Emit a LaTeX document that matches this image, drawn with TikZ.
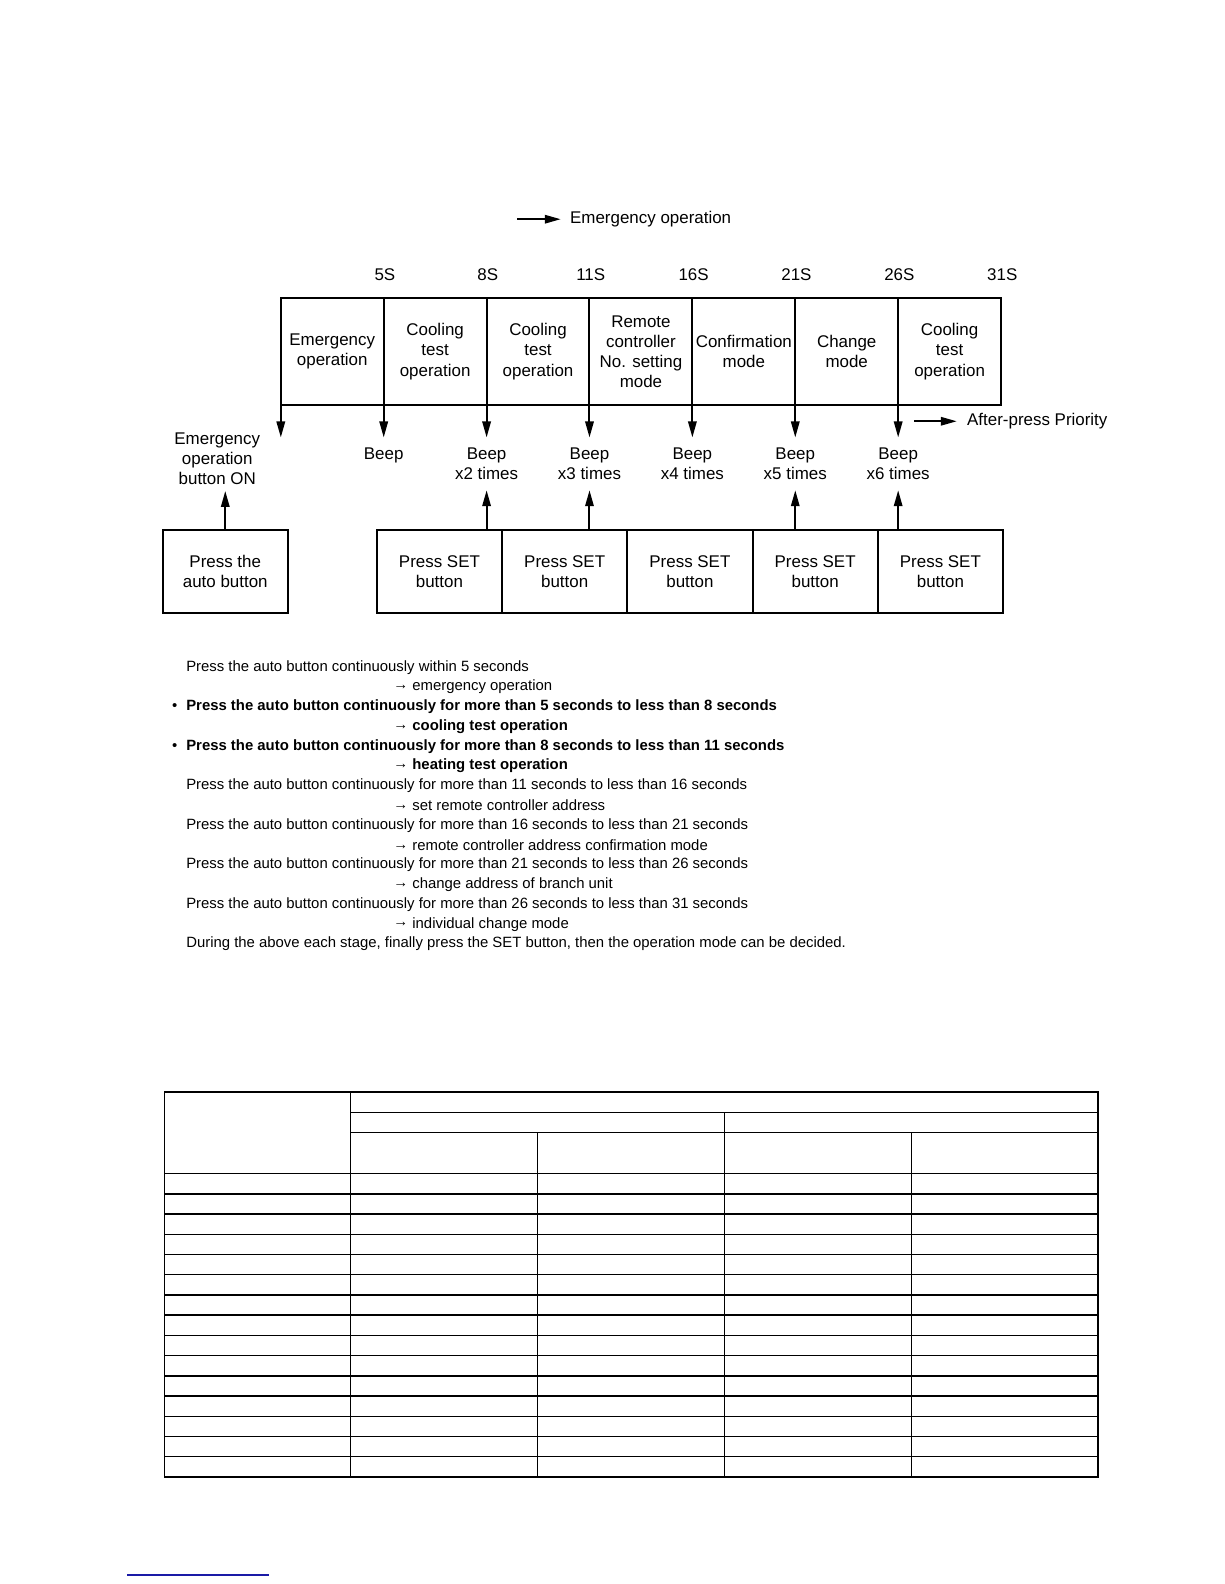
\documentclass[tikz,border=0pt]{standalone}
\usepackage{fontspec}
\setmainfont{Liberation Sans}
\usetikzlibrary{arrows.meta, positioning}
\definecolor{cink}{HTML}{000000}
\definecolor{cfoot}{HTML}{1A1AA6}
\newcommand{\notearrow}{\raisebox{0.6bp}{→}}

\begin{document}
\begin{tikzpicture}[x=0.50495bp, y=-0.50495bp]
    \useasboundingbox (0,0) rectangle (1212,1568);
    \begin{scope}[
        cell/.style={rectangle, draw=cink, line width=1bp, minimum width=51.43bp, minimum height=53.5bp, inner sep=0pt, outer sep=0pt, align=center, font=\fontsize{8.5}{10.1}\selectfont},
        btnbox/.style={rectangle, draw=cink, line width=1bp, minimum width=62.6bp, minimum height=41.4bp, inner sep=0pt, outer sep=0pt, align=center, font=\fontsize{8.5}{10.1}\selectfont},
        tlabel/.style={font=\fontsize{8.5}{10.1}\selectfont, inner sep=0pt},
        beep/.style={font=\fontsize{8.5}{10.1}\selectfont, align=center, inner sep=5bp, anchor=north},
        legendtext/.style={font=\fontsize{8.5}{10.1}\selectfont, anchor=west, inner sep=0pt},
        note/.style={font=\fontsize{7.47}{9.8}\selectfont, anchor=west, inner sep=0pt},
        arrow/.style={-{Triangle[length=8bp, width=4.2bp]}, line width=1bp, draw=cink},
        tablerule/.style={line width=0.7bp, draw=cink}
    ]
        % ================= LEGEND =================
        \node[legendtext] (lgem) at (564,217) {Emergency operation};
        \coordinate (lgemtail) at (512,217);
        \draw[arrow, shorten >=4.5bp] (lgemtail) -- (lgem.west);

        % ================= TIME LINE =================
        \node[cell] (c1) at (328.9,348) {Emergency\\operation};
        \node[cell, right=0pt of c1] (c2) {Cooling\\test\\operation};
        \node[cell, right=0pt of c2] (c3) {Cooling\\test\\operation};
        \node[cell, right=0pt of c3] (c4) {Remote\\controller\\No. setting\\mode};
        \node[cell, right=0pt of c4] (c5) {Confirmation\\mode};
        \node[cell, right=0pt of c5] (c6) {Change\\mode};
        \node[cell, right=0pt of c6] (c7) {Cooling\\test\\operation};

        \foreach \t [count=\i] in {5S, 8S, 11S, 16S, 21S, 26S, 31S}
            \node[tlabel] (s\i) at ([xshift=0.6bp, yshift=11.6bp]c\i.north east) {\t};

        \node[legendtext] (lgap) at (957,417) {After-press Priority};
        \coordinate (lgaptail) at (905,417);
        \draw[arrow, shorten >=5bp] (lgaptail) -- (lgap.west);

        % ================= BEEPS =================
        \coordinate (tip0) at ([yshift=-16.2bp]c1.south west);
        \node[beep] (b1) at ([yshift=-16.2bp]c1.south east) {Beep};
        \node[beep] (b2) at ([yshift=-16.2bp]c2.south east) {Beep\\x2 times};
        \node[beep] (b3) at ([yshift=-16.2bp]c3.south east) {Beep\\x3 times};
        \node[beep] (b4) at ([yshift=-16.2bp]c4.south east) {Beep\\x4 times};
        \node[beep] (b5) at ([yshift=-16.2bp]c5.south east) {Beep\\x5 times};
        \node[beep] (b6) at ([yshift=-16.2bp]c6.south east) {Beep\\x6 times};

        \draw[arrow] (c1.north west) -- (tip0);
        \foreach \i in {1,...,6}
            \draw[arrow] (c\i.north east) -- (b\i.north);

        % ================= BUTTONS =================
        \node[btnbox] (auto) at (223,566) {Press the\\auto button};
        \node[beep, anchor=south, inner sep=3bp] (embtn) at ([xshift=-4bp, yshift=19.7bp]auto.north) {Emergency\\operation\\button ON};
        \draw[arrow] (auto.north) -- (auto.north |- embtn.south);

        \node[btnbox] (set1) at (435,566) {Press SET\\button};
        \node[btnbox, right=0pt of set1] (set2) {Press SET\\button};
        \node[btnbox, right=0pt of set2] (set3) {Press SET\\button};
        \node[btnbox, right=0pt of set3] (set4) {Press SET\\button};
        \node[btnbox, right=0pt of set4] (set5) {Press SET\\button};

        \draw[arrow] (set1.north -| b2) -- (b2.south);
        \draw[arrow] (set2.north -| b3) -- (b3.south);
        \draw[arrow] (set4.north -| b5) -- (b5.south);
        \draw[arrow] (set5.north -| b6) -- (b6.south);

        % ================= NOTES =================
        \node[note] (n1) at (184,660.5) {Press the auto button continuously within 5 seconds};
        \node[note] (n2) at (389,680.1) {\notearrow{} emergency operation};
        \node[note] (n3) at (184,699.6) {\llap{•\hspace{4.5bp}}\bfseries Press the auto button continuously for more than 5 seconds to less than 8 seconds};
        \node[note] (n4) at (389,719.2) {\bfseries \notearrow{} cooling test operation};
        \node[note] (n5) at (184,738.8) {\llap{•\hspace{4.5bp}}\bfseries Press the auto button continuously for more than 8 seconds to less than 11 seconds};
        \node[note] (n6) at (389,758.4) {\bfseries \notearrow{} heating test operation};
        \node[note] (n7) at (184,777.9) {Press the auto button continuously for more than 11 seconds to less than 16 seconds};
        \node[note] (n8) at (389,797.5) {\notearrow{} set remote controller address};
        \node[note] (n9) at (184,817.1) {Press the auto button continuously for more than 16 seconds to less than 21 seconds};
        \node[note] (n10) at (389,836.6) {\notearrow{} remote controller address confirmation mode};
        \node[note] (n11) at (184,856.2) {Press the auto button continuously for more than 21 seconds to less than 26 seconds};
        \node[note] (n12) at (389,875.8) {\notearrow{} change address of branch unit};
        \node[note] (n13) at (184,895.4) {Press the auto button continuously for more than 26 seconds to less than 31 seconds};
        \node[note] (n14) at (389,914.9) {\notearrow{} individual change mode};
        \node[note] (n15) at (184,934.5) {During the above each stage, finally press the SET button, then the operation mode can be decided.};

        % ================= TABLE =================
        \draw[tablerule] (163,1081) rectangle (1087,1462);
        \draw[tablerule] (347,1101) -- (1087,1101);
        \draw[tablerule] (347,1121) -- (1087,1121);
        \draw[tablerule] (163,1161.8) -- (1087,1161.8);
        \foreach \r in {1,...,14}
            \draw[tablerule] (163,1161.8+\r*20.01) -- (1087,1161.8+\r*20.01);
        \draw[tablerule] (347,1081) -- (347,1462);
        \draw[tablerule] (717,1101) -- (717,1462);
        \draw[tablerule] (532,1121) -- (532,1462);
        \draw[tablerule] (902,1121) -- (902,1462);

        \draw[cfoot, line width=0.65bp] (126,1559) -- (266,1559);
    \end{scope}
\end{tikzpicture}
\end{document}
